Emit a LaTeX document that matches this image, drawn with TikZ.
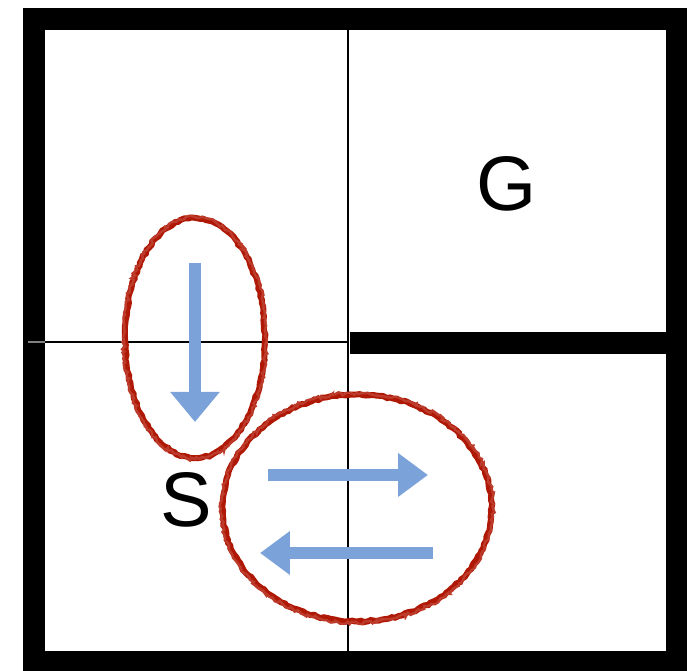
\documentclass[tikz,border=0pt]{standalone}
\usepackage{fontspec}
\setmainfont{Liberation Sans}
\usepackage{tikz}
\usetikzlibrary{arrows.meta,calc,positioning,decorations.pathmorphing}
\definecolor{ringred}{RGB}{176,24,6}
\definecolor{moveblue}{RGB}{124,163,217}
\tikzset{
  wall/.style={line width=0.44cm,line cap=rect,line join=miter},
  gridline/.style={line width=1.1pt},
  cell/.style={font=\fontsize{44}{50}\selectfont,inner sep=0pt},
  move/.style={draw=moveblue,line width=0.24cm,
    -{Triangle[width=0.95cm,length=0.6cm]}},
  % hand-drawn looking ring round the moves
  ring/.style={draw=ringred,line width=3.4pt,decorate,
    decoration={random steps,segment length=2pt,amplitude=0.5pt}},
  ringsoft/.style={draw=ringred!85,line width=1.4pt,decorate,
    decoration={random steps,segment length=1.5pt,amplitude=1pt}}
}
\begin{document}
\begin{tikzpicture}[x=0.02cm,y=-0.02cm]
  \useasboundingbox (0,0) rectangle (698,671);
  % grid
  \draw[gridline] (348,19) -- (348,662);
  \draw[gridline] (45,342) -- (348,342);
  \draw[wall] (34,19.5) rectangle (676.5,662);
  \draw[wall,line cap=butt] (350,343.5) -- (676.5,343.5);
  \draw[gridline,gray] (28,342) -- (45,342);
  % labels
  \node[cell] (goal) at (507,184) {G};
  \node[cell] (start) at (186,500) {S};
  % moves
  \coordinate (d1) at (195,263); \coordinate (d2) at (195,422);
  \coordinate (r1) at (268,475); \coordinate (r2) at (428,475);
  \coordinate (l1) at (433,553); \coordinate (l2) at (260,553);
  \draw[move] (d1) -- (d2);
  \draw[move,-{Triangle[width=0.84cm,length=0.6cm]}] (r1) -- (r2);
  \draw[move,-{Triangle[width=0.84cm,length=0.6cm]}] (l1) -- (l2);
  % rings
  \coordinate (c1) at (195,338); \coordinate (c2) at (357,508);
  \draw[ring] (c1) ellipse [x radius=1.40cm,y radius=2.40cm];
  \draw[ringsoft] (c1) ellipse [x radius=1.43cm,y radius=2.42cm];
  \draw[ring] (c2) ellipse [x radius=2.69cm,y radius=2.27cm];
  \draw[ringsoft] (c2) ellipse [x radius=2.72cm,y radius=2.3cm];
\end{tikzpicture}
\end{document}
